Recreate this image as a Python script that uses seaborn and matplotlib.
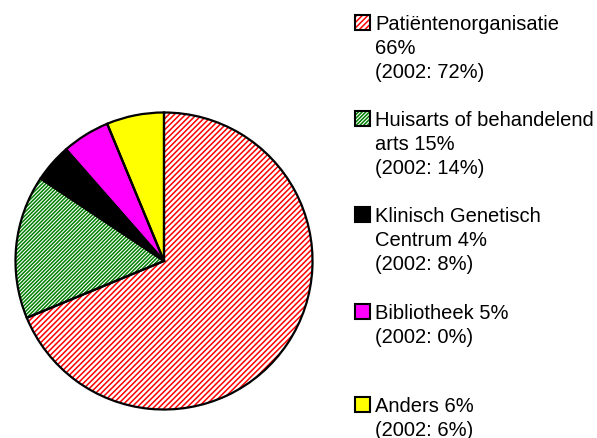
import matplotlib
matplotlib.use("Agg")
import matplotlib.pyplot as plt
from matplotlib.patches import Rectangle
import seaborn as sns

# Data
categories = ["Patiëntenorganisatie", "Huisarts of behandelend arts",
              "Klinisch Genetisch Centrum", "Bibliotheek", "Anders"]
share_now = [66, 15, 4, 5, 6]
share_2002 = [72, 14, 8, 0, 6]
legend_texts = [
    "Patiëntenorganisatie\n66%\n(2002: 72%)",
    "Huisarts of behandelend\narts 15%\n(2002: 14%)",
    "Klinisch Genetisch\nCentrum 4%\n(2002: 8%)",
    "Bibliotheek 5%\n(2002: 0%)",
    "Anders 6%\n(2002: 6%)",
]

# Styles per slice
face_colors = ["white", "white", "black", "#FF00FF", "#FFFF00"]
hatch_colors = ["#FF0000", "#008000", "black", "#FF00FF", "#FFFF00"]
hatches = ["//////", "/////////", None, None, None]

sns.set_style("white")
plt.rcParams["font.family"] = ["Liberation Sans", "DejaVu Sans"]
plt.rcParams["hatch.linewidth"] = 1.1

W, H = 597, 439
fig = plt.figure(figsize=(W / 100, H / 100), dpi=100)

# pie axes: centre (164, 262) px, radius 150 px
ax = fig.add_axes([14 / W, (H - 412) / H, 300 / W, 300 / H])
wedges, _ = ax.pie(share_now, startangle=90, counterclock=False,
                   colors=face_colors,
                   wedgeprops=dict(linewidth=0))
for w, hc, h in zip(wedges, hatch_colors, hatches):
    w.set_edgecolor(hc)
    if h:
        w.set_hatch(h)
outline, _ = ax.pie(share_now, startangle=90, counterclock=False,
                    wedgeprops=dict(fill=False, edgecolor="black", linewidth=1.6))
ax.set_xlim(-1.01, 1.01)
ax.set_ylim(-1.01, 1.01)
ax.set_aspect("equal")
ax.axis("off")

# hand-drawn legend on the right
box_tops = [16, 112, 208, 305, 398]
for txt, top, fc, hc, h in zip(legend_texts, box_tops, face_colors, hatch_colors, hatches):
    x0, size = 355, 15
    fig.add_artist(Rectangle((x0 / W, (H - top - size) / H), size / W, size / H,
                             transform=fig.transFigure, facecolor=fc,
                             edgecolor=hc, hatch=h, linewidth=0))
    fig.add_artist(Rectangle((x0 / W, (H - top - size) / H), size / W, size / H,
                             transform=fig.transFigure, fill=False,
                             edgecolor="black", linewidth=1.5))
    fig.text(375 / W, (H - top + 1) / H, txt, fontsize=14.5, va="top",
             ha="left", linespacing=1.34, color="black")

fig.savefig("out.png", dpi=100)
